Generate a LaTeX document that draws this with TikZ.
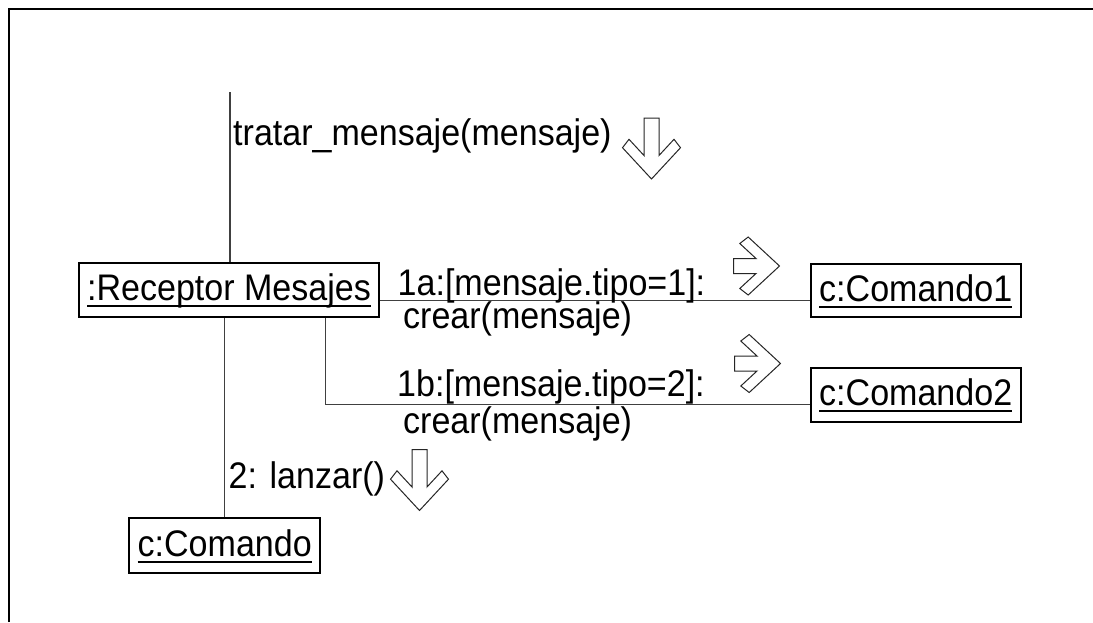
\documentclass[tikz,border=0pt]{standalone}
\usepackage{fontspec}
\setmainfont{Liberation Sans}[FakeStretch=0.92]
\newcommand{\myul}[1]{\setbox0\hbox{#1}\rlap{\vrule height -4.6pt depth 6.6pt width \wd0}\box0}
\begin{document}
\begin{tikzpicture}[x=1pt,y=-1pt,
  font=\fontsize{37pt}{42pt}\selectfont,
  obj/.style={draw=black, line width=2pt, fill=white, inner sep=0pt,
    text height=24pt, text depth=2.6pt, minimum height=53.5pt},
  conn/.style={draw=black!75, line width=1.2pt},
  lbl/.style={anchor=base west, inner sep=0pt},
  blk/.style={draw=black!85, line width=1pt, fill=white, line join=miter},
  pics/dnarrow/.style={code={
    \path[blk] (-7.5,-61) -- (7.5,-61) -- (7.5,-23.5) -- (22.5,-39.7) -- (29,-31.3)
      -- (0,0) -- (-29,-31.3) -- (-22.5,-39.7) -- (-7.5,-23.5) -- cycle;}},
  pics/rtarrow/.style={code={
    \path[blk] (-46,-7.5) -- (-23.5,-7.5) -- (-39.7,-22.5) -- (-31.3,-29)
      -- (0,0) -- (-31.3,29) -- (-39.7,22.5) -- (-23.5,7.5) -- (-46,7.5) -- cycle;}}
]
\useasboundingbox (0,0) rectangle (1093,622);
\fill[white] (0,0) rectangle (1093,622);
% frame
\draw[line width=2pt] (9,622) -- (9,9) -- (1093,9);

% objects
\node[obj, minimum width=300pt] (rec) at (229,290) {\myul{:Receptor Mesajes}};
\node[obj, minimum width=210pt] (c1) at (915.7,290.7) {\myul{c:Comando1}};
\node[obj, minimum width=210pt] (c2) at (915.7,395) {\myul{c:Comando2}};
\node[obj, minimum width=190.7pt, minimum height=54.4pt] (cmd) at (224.7,545.5) {\myul{c:Comando}};

% coordinates for connectors
\coordinate (top) at (230,92);
\coordinate (h1) at (0,300.5);
\coordinate (bend2) at (325.7,404.5);

% connectors
\draw[conn] (top) -- (top |- rec.north);
\draw[conn] (rec.east |- h1) -- (h1 -| c1.west);
\draw[conn] (bend2 |- rec.south) -- (bend2) -- (bend2 -| c2.west);
\draw[conn] (cmd.north) -- (cmd.north |- rec.south);

% labels
\node[lbl] (l0) at (233,145) {tratar\_mensaje(mensaje)};
\node[lbl] (l1a) at (397.5,295) {1a:[mensaje.tipo=1]:};
\node[lbl] (l1b) at (403,328.5) {crear(mensaje)};
\node[lbl] (l2a) at (397,396) {1b:[mensaje.tipo=2]:};
\node[lbl] (l2b) at (403,433) {crear(mensaje)};
\node[lbl] (l3) at (228.5,488) {2: lanzar()};

% message arrows
\pic at (651.5,179) {dnarrow};
\pic at (779.5,266) {rtarrow};
\pic at (780.5,363.5) {rtarrow};
\pic at (419.5,510.5) {dnarrow};
\end{tikzpicture}
\end{document}
